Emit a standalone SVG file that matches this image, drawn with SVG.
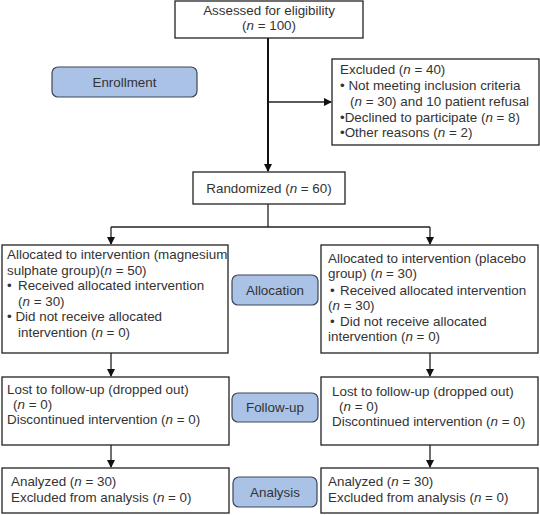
<svg xmlns="http://www.w3.org/2000/svg" width="540" height="515" viewBox="0 0 540 515">
<style>
.box{fill:#fff;stroke:#222;stroke-width:1.3}
.lab{fill:#aac2e6;stroke:#3c4656;stroke-width:1.2}
text{font-family:"Liberation Sans",Arial,sans-serif;font-size:13.4px;fill:#333}
.c{text-anchor:middle}
.ln{stroke:#222;stroke-width:1.3;fill:none}
.thick{stroke:#111;stroke-width:2;fill:none}
</style>
<defs>
<marker id="ah" markerWidth="8" markerHeight="8" refX="7" refY="4" orient="auto" markerUnits="userSpaceOnUse">
<path d="M0,0 L8,4 L0,8 z" fill="#111"/>
</marker>
</defs>
<g id="connectors">
<line class="thick" x1="268" y1="38" x2="268" y2="171" marker-end="url(#ah)"/>
<line class="ln" x1="268" y1="102" x2="331" y2="102" marker-end="url(#ah)"/>
<line class="ln" x1="268" y1="204" x2="268" y2="227"/>
<line class="ln" x1="111" y1="227" x2="430" y2="227"/>
<line class="ln" x1="111" y1="227" x2="111" y2="244" marker-end="url(#ah)"/>
<line class="ln" x1="430" y1="227" x2="430" y2="244" marker-end="url(#ah)"/>
<line class="ln" x1="111" y1="353" x2="111" y2="376" marker-end="url(#ah)"/>
<line class="ln" x1="430" y1="353" x2="430" y2="376" marker-end="url(#ah)"/>
<line class="ln" x1="111" y1="445" x2="111" y2="467" marker-end="url(#ah)"/>
<line class="ln" x1="430" y1="445" x2="430" y2="467" marker-end="url(#ah)"/>
</g>
<g id="assessed">
<rect class="box" x="175" y="1" width="188" height="37"/>
<text class="c" x="269" y="15">Assessed for eligibility</text>
<text class="c" x="269" y="30">(<tspan font-style="italic">n</tspan> = 100)</text>
</g>
<g id="enrollment">
<rect class="lab" x="52" y="67" width="145" height="30" rx="6"/>
<text class="c" x="124.5" y="87">Enrollment</text>
</g>
<g id="excluded">
<rect class="box" x="332" y="59" width="207" height="86"/>
<text x="340" y="74">Excluded (<tspan font-style="italic">n</tspan> = 40)</text>
<text x="340" y="90">• Not meeting inclusion criteria</text>
<text x="350" y="106">(<tspan font-style="italic">n</tspan> = 30) and 10 patient refusal</text>
<text x="340" y="122">•Declined to participate (<tspan font-style="italic">n</tspan> = 8)</text>
<text x="340" y="137">•Other reasons (<tspan font-style="italic">n</tspan> = 2)</text>
</g>
<g id="randomized">
<rect class="box" x="193" y="172" width="152" height="32"/>
<text class="c" x="269" y="193">Randomized (<tspan font-style="italic">n</tspan> = 60)</text>
</g>
<g id="alloc-left">
<rect class="box" x="2" y="245" width="226" height="108"/>
<text x="7" y="259">Allocated to intervention (magnesium</text>
<text x="7" y="275">sulphate group)(<tspan font-style="italic">n</tspan> = 50)</text>
<text x="7" y="290">•</text><text x="18" y="290">Received allocated intervention</text>
<text x="18" y="306">(<tspan font-style="italic">n</tspan> = 30)</text>
<text x="7" y="321">• Did not receive allocated</text>
<text x="18" y="337">intervention (<tspan font-style="italic">n</tspan> = 0)</text>
</g>
<g id="allocation">
<rect class="lab" x="232" y="275" width="86" height="30" rx="6"/>
<text class="c" x="275" y="295">Allocation</text>
</g>
<g id="alloc-right">
<rect class="box" x="321" y="245" width="217" height="108"/>
<text x="328" y="263">Allocated to intervention (placebo</text>
<text x="328" y="278">group) (<tspan font-style="italic">n</tspan> = 30)</text>
<text x="330" y="295">•</text><text x="340" y="295">Received allocated intervention</text>
<text x="328" y="310">(<tspan font-style="italic">n</tspan> = 30)</text>
<text x="330" y="326">•</text><text x="340" y="326">Did not receive allocated</text>
<text x="328" y="341">intervention (<tspan font-style="italic">n</tspan> = 0)</text>
</g>
<g id="follow-left">
<rect class="box" x="2" y="377" width="227" height="68"/>
<text x="7" y="394">Lost to follow-up (dropped out)</text>
<text x="13" y="409">(<tspan font-style="italic">n</tspan> = 0)</text>
<text x="7" y="424">Discontinued intervention (<tspan font-style="italic">n</tspan> = 0)</text>
</g>
<g id="followup">
<rect class="lab" x="232" y="393" width="86" height="29" rx="6"/>
<text class="c" x="275" y="412">Follow-up</text>
</g>
<g id="follow-right">
<rect class="box" x="321" y="377" width="217" height="68"/>
<text x="332" y="396">Lost to follow-up (dropped out)</text>
<text x="339" y="411">(<tspan font-style="italic">n</tspan> = 0)</text>
<text x="332" y="426">Discontinued intervention (<tspan font-style="italic">n</tspan> = 0)</text>
</g>
<g id="analyzed-left">
<rect class="box" x="2" y="468" width="227" height="45"/>
<text x="11" y="486">Analyzed (<tspan font-style="italic">n</tspan> = 30)</text>
<text x="11" y="502">Excluded from analysis (<tspan font-style="italic">n</tspan> = 0)</text>
</g>
<g id="analysis">
<rect class="lab" x="233" y="477" width="84" height="30" rx="6"/>
<text class="c" x="275" y="497">Analysis</text>
</g>
<g id="analyzed-right">
<rect class="box" x="321" y="468" width="217" height="45"/>
<text x="328" y="486">Analyzed (<tspan font-style="italic">n</tspan> = 30)</text>
<text x="328" y="502">Excluded from analysis (<tspan font-style="italic">n</tspan> = 0)</text>
</g>
</svg>
